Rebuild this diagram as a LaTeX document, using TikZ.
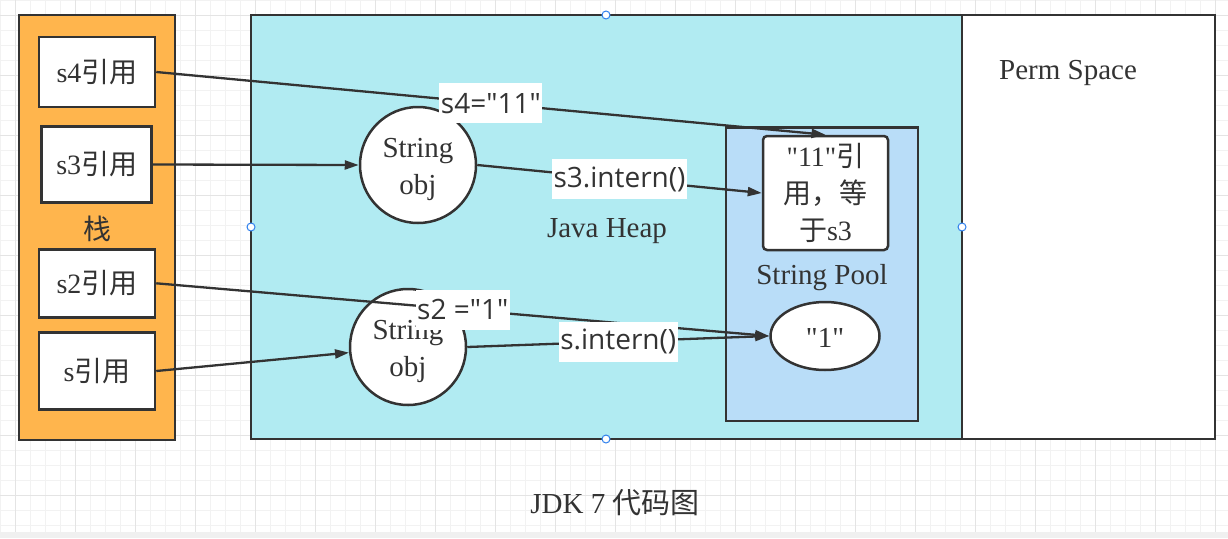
\documentclass[tikz,border=0pt]{standalone}
\usepackage{fontspec}
\setmainfont{Liberation Serif}[Ligatures=TeXOff]
\newfontfamily\cjk{Noto Sans CJK SC}
\newfontfamily\lblfont{Open Sans}
\newcommand\dq{\char34\relax}
\usetikzlibrary{arrows.meta,shapes.geometric}
\definecolor{ink}{HTML}{333333}
\definecolor{stackfill}{HTML}{FFB54D}
\definecolor{heapfill}{HTML}{B1EBF2}
\definecolor{poolfill}{HTML}{B9DDF8}
\definecolor{gridminor}{HTML}{F2F2F2}
\definecolor{gridmajor}{HTML}{E4E4E4}
\definecolor{handlecol}{HTML}{2F80ED}
\definecolor{bandcol}{HTML}{F0F0F0}
\tikzset{
  region/.style={draw=ink, line width=2.5pt, inner sep=0pt},
  refbox/.style={draw=ink, fill=white, line width=2.5pt, inner sep=0pt, font=\fontsize{28}{36}\selectfont, text=ink},
  objcircle/.style={circle, draw=ink, fill=white, line width=2.5pt, inner sep=0pt, minimum size=116pt, text=ink},
  objtext/.style={align=center, font=\fontsize{29}{37}\selectfont, text=ink, inner sep=0pt},
  plain/.style={text=ink, font=\fontsize{29}{36}\selectfont, inner sep=0pt},
  arr/.style={draw=ink, line width=2.3pt, -{Triangle[length=14pt,width=9pt]}},
  lbl/.style={fill=white, text=ink, font=\lblfont\fontsize{28}{34}\selectfont, inner xsep=1.5pt, inner ysep=0pt, minimum height=40pt},
  handle/.style={circle, draw=handlecol, fill=white, line width=1pt, inner sep=0pt, minimum size=8pt}
}
\begin{document}
\begin{tikzpicture}[x=1pt,y=-1pt]
\useasboundingbox (0,0) rectangle (1228,538);
\fill[white] (0,0) rectangle (1228,538);
% background grid
\foreach \g in {0,15,...,1225} \draw[gridminor, line width=1pt] (\g,0) -- (\g,532);
\foreach \g in {0,15,...,530} \draw[gridminor, line width=1pt] (0,\g) -- (1228,\g);
\foreach \g in {15,75,...,1225} \draw[gridmajor, line width=1pt] (\g,0) -- (\g,532);
\foreach \g in {15,75,...,530} \draw[gridmajor, line width=1pt] (0,\g) -- (1228,\g);
\fill[bandcol] (0,532) rectangle (1228,538);

% regions
\node[region, fill=stackfill, minimum width=156pt, minimum height=425pt] (stack) at (97,227.5) {};
\node[region, fill=heapfill, minimum width=711pt, minimum height=424pt] (heap) at (606.5,227) {};
\node[region, fill=white, minimum width=253pt, minimum height=424pt] (perm) at (1088.5,227) {};
\node[region, fill=poolfill, minimum width=192pt, minimum height=293.5pt] (pool) at (822,274.3) {};

% labels of regions
\node[plain, font=\fontsize{28}{36}\selectfont] (stacklbl) at (97,229) {\cjk 栈};
\node[plain] (heaplbl) at (607,231) {Java Heap};
\node[plain] (permlbl) at (1068,73) {Perm Space};
\node[plain] (poollbl) at (822,278) {String Pool};

% stack references
\node[refbox, minimum width=116pt, minimum height=70pt] (s4) at (97,72) {s4{\cjk 引用}};
\node[refbox, minimum width=110pt, minimum height=75.6pt] (s3) at (96.7,164.5) {s3{\cjk 引用}};
\node[refbox, minimum width=116pt, minimum height=68pt] (s2) at (97,283.3) {s2{\cjk 引用}};
\node[refbox, minimum width=116pt, minimum height=76.6pt] (s) at (97,371) {s{\cjk 引用}};

% heap objects
\node[objcircle] (objA) at (418,165) {};
\node[objtext] (objAtxt) at (418,169) {String\\obj};
\node[objcircle] (objB) at (408,347) {};
\node[objtext] (objBtxt) at (408,351) {String\\obj};

% pool contents
\node[refbox, rounded corners=4pt, minimum width=125pt, minimum height=114pt, align=center, font=\fontsize{28}{37}\selectfont] (p11) at (825.5,193) {\dq11\dq{\cjk 引}\\{\cjk 用，等}\\{\cjk 于}s3};
\node[ellipse, draw=ink, fill=white, line width=2.5pt, inner sep=0pt, minimum width=109pt, minimum height=68pt, font=\fontsize{29}{36}\selectfont, text=ink] (one) at (825,336) {};
\node[plain] (onetxt) at (825,338) {\dq1\dq};

% connectors
\draw[arr] (s4.east) -- node[lbl] {s4=\dq11\dq} (p11.north);
\draw[arr] (s3.east) -- (objA.west);
\draw[arr] (objA.east) -- node[lbl] {s3.intern()} (p11.west);
\draw[arr] (s2.east) -- node[lbl] {s2 =\dq1\dq} (one.west);
\draw[arr] (s.east) -- (objB);
\draw[arr] (objB.east) -- node[lbl] {s.intern()} (one.west);

% selection handles
\node[handle] (h1) at (606,15) {};
\node[handle] (h2) at (251,227) {};
\node[handle] (h3) at (962,227) {};
\node[handle] (h4) at (606,439) {};

% caption
\node[plain] (caption) at (615,503) {JDK 7 {\cjk 代码图}};
\end{tikzpicture}
\end{document}
